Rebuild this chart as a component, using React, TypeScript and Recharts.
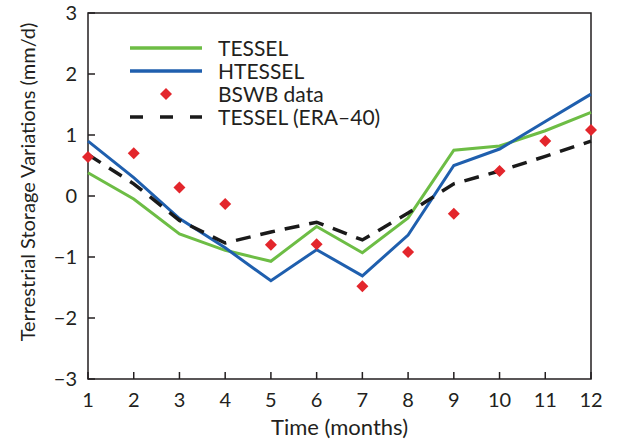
import { ComposedChart, Line, Scatter, XAxis, YAxis, ReferenceArea, Label } from 'recharts';

const MONTHS = [1, 2, 3, 4, 5, 6, 7, 8, 9, 10, 11, 12];
const TESSEL = [0.38, -0.05, -0.62, -0.89, -1.07, -0.5, -0.93, -0.36, 0.75, 0.82, 1.07, 1.37];
const HTESSEL = [0.9, 0.3, -0.37, -0.85, -1.39, -0.88, -1.31, -0.64, 0.5, 0.77, 1.22, 1.67];
const BSWB = [0.64, 0.7, 0.14, -0.13, -0.8, -0.79, -1.48, -0.92, -0.29, 0.41, 0.9, 1.08];
const ERA40 = [0.68, 0.2, -0.4, -0.77, -0.59, -0.43, -0.72, -0.28, 0.2, 0.41, 0.65, 0.9];
const Y_TICKS = [-3, -2, -1, 0, 1, 2, 3];

const FONT = 'Lato, "Noto Sans", sans-serif';
const INK = '#231f20';

const data = MONTHS.map((m, i) => ({
  month: m,
  tessel: TESSEL[i],
  htessel: HTESSEL[i],
  bswb: BSWB[i],
  era40: ERA40[i],
}));

const LEGEND = [
  { name: 'TESSEL', kind: 'line', color: '#6dbd45' },
  { name: 'HTESSEL', kind: 'line', color: '#1f5fae' },
  { name: 'BSWB data', kind: 'diamond', color: '#e3262c' },
  { name: 'TESSEL (ERA\u201340)', kind: 'dash', color: '#1a1a1a' },
];

const fmt = (v: number) => String(v).replace('-', '\u2212');

function Diamond(props: any) {
  const { cx, cy, fill } = props;
  const r = 6;
  return <polygon points={`${cx},${cy - r} ${cx + r},${cy} ${cx},${cy + r} ${cx - r},${cy}`} fill={fill} />;
}

function XTick(props: any) {
  const { x, y, payload } = props;
  return (
    <g>
      <line x1={x} x2={x} y1={y} y2={y - 7} stroke={INK} strokeWidth={1.5} />
      <text x={x} y={y + 28} textAnchor="middle" fontSize={20} fill={INK} fontFamily={FONT}>
        {payload.value}
      </text>
    </g>
  );
}

function YTick(props: any) {
  const { x, y, payload } = props;
  return (
    <g>
      <line x1={x} x2={x + 7} y1={y} y2={y} stroke={INK} strokeWidth={1.5} />
      <text x={x - 11} y={y} dy="0.36em" textAnchor="end" fontSize={20} fill={INK} fontFamily={FONT}>
        {fmt(payload.value)}
      </text>
    </g>
  );
}

function ChartLegend() {
  return (
    <div style={{ position: 'absolute', left: 130, top: 36, fontFamily: FONT, color: INK }}>
      {LEGEND.map((item) => (
        <div key={item.name} style={{ display: 'flex', alignItems: 'center', height: 23 }}>
          <svg width={72} height={20} style={{ marginRight: 16 }}>
            {item.kind === 'line' && <line x1={0} x2={72} y1={10} y2={10} stroke={item.color} strokeWidth={3.5} />}
            {item.kind === 'dash' && (
              <line x1={0} x2={72} y1={10} y2={10} stroke={item.color} strokeWidth={3.5} strokeDasharray="13 17" />
            )}
            {item.kind === 'diamond' && <Diamond cx={36} cy={10} fill={item.color} />}
          </svg>
          <span style={{ fontSize: 21, lineHeight: '23px' }}>{item.name}</span>
        </div>
      ))}
    </div>
  );
}

export default function App() {
  return (
    <div style={{ position: 'absolute', left: 0, top: 0, width: 619, height: 442, background: '#fff' }}>
      <ComposedChart width={619} height={442} data={data} margin={{ top: 13, right: 28, left: 28, bottom: 33 }}>
        <XAxis
          dataKey="month"
          type="number"
          domain={[1, 12]}
          ticks={MONTHS}
          height={30}
          axisLine={false}
          tickLine={false}
          tickSize={0}
          tickMargin={0}
          tick={<XTick />}
        >
          <Label
            content={(p: any) => (
              <text x={p.viewBox.x + p.viewBox.width / 2} y={p.viewBox.y + 56} textAnchor="middle" fontSize={22} fill={INK} fontFamily={FONT}>
                Time (months)
              </text>
            )}
          />
        </XAxis>
        <YAxis
          type="number"
          domain={[-3, 3]}
          ticks={Y_TICKS}
          width={60}
          axisLine={false}
          tickLine={false}
          tickSize={0}
          tickMargin={0}
          tick={<YTick />}
        >
          <Label
            content={() => (
              <text x={27} y={182} transform="rotate(-90 27 182)" textAnchor="middle" dominantBaseline="central" fontSize={20} fill={INK} fontFamily={FONT}>
                Terrestrial Storage Variations (mm/d)
              </text>
            )}
          />
        </YAxis>
        <ReferenceArea x1={1} x2={12} y1={-3} y2={3} fill="none" stroke={INK} strokeWidth={1.5} strokeOpacity={1} ifOverflow="visible" />
        <Line dataKey="tessel" stroke="#6dbd45" strokeWidth={3} dot={false} isAnimationActive={false} />
        <Line dataKey="htessel" stroke="#1f5fae" strokeWidth={3} dot={false} isAnimationActive={false} />
        <Line dataKey="era40" stroke="#1a1a1a" strokeWidth={3.5} strokeDasharray="15 10" dot={false} isAnimationActive={false} />
        <Scatter dataKey="bswb" fill="#e3262c" shape={<Diamond />} isAnimationActive={false} />
      </ComposedChart>
      <ChartLegend />
    </div>
  );
}
